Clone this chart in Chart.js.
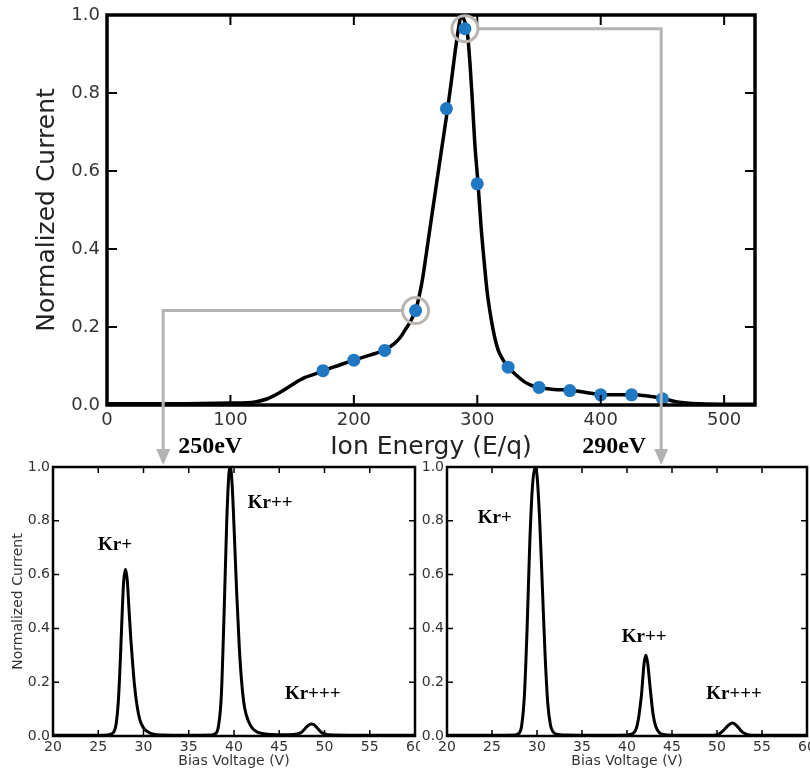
<!DOCTYPE html>
<html>
<head>
<meta charset="utf-8">
<script src="https://cdn.jsdelivr.net/npm/chart.js@4.4.1/dist/chart.umd.min.js"></script>
<style>
  html, body { margin: 0; padding: 0; background: #fff; }
  #wrap { position: relative; width: 810px; height: 774px; overflow: hidden; }
  canvas { position: absolute; }
  #energy { left: 0; top: 0; z-index: 2; pointer-events: none; }
  #bias250 { left: 0; top: 455px; z-index: 1; }
  #bias290 { left: 415px; top: 455px; z-index: 1; }
</style>
</head>
<body>
<div id="wrap">
  <canvas id="energy" width="810" height="475"></canvas>
  <canvas id="bias250" width="420" height="319"></canvas>
  <canvas id="bias290" width="395" height="319"></canvas>
</div>
<script>
// ion energy distribution (top)
const energyCurveX = [0, 50, 100, 120, 130, 140, 150, 160, 170, 176, 188, 200, 213, 225, 233, 238, 242, 246, 250, 253, 256, 259, 262, 265, 268, 272, 276, 279, 282, 285, 287, 289, 292, 294, 296, 298, 300.6, 303, 305.5, 308, 311, 314, 317, 321, 325, 331, 338, 344, 350, 362, 376, 388, 400, 412, 425, 438, 450, 462, 481, 500, 525]
const energyCurveY = [0.003, 0.003, 0.005, 0.008, 0.016, 0.032, 0.052, 0.07, 0.081, 0.089, 0.102, 0.115, 0.128, 0.141, 0.158, 0.175, 0.195, 0.215, 0.243, 0.28, 0.33, 0.395, 0.46, 0.525, 0.59, 0.675, 0.76, 0.83, 0.905, 0.97, 1.0, 0.99, 0.953, 0.88, 0.78, 0.67, 0.568, 0.46, 0.37, 0.29, 0.225, 0.175, 0.14, 0.115, 0.098, 0.078, 0.06, 0.05, 0.045, 0.04, 0.038, 0.032, 0.027, 0.026, 0.026, 0.023, 0.017, 0.008, 0.003, 0.002, 0.002]
const energyPointX = [175, 200, 225, 250, 275, 290, 300, 325, 350, 375, 400, 425, 450]
const energyPointY = [0.088, 0.115, 0.14, 0.242, 0.76, 0.965, 0.567, 0.097, 0.045, 0.037, 0.026, 0.026, 0.016]
const energyTicks = [0, 100, 200, 300, 400, 500]
const currentTicks = [0, 0.2, 0.4, 0.6, 0.8, 1.0]

// retarding potential spectra (bottom)
const biasTicks = [20, 25, 30, 35, 40, 45, 50, 55, 60]
const bias250X = [20, 25, 26, 26.5, 26.8, 27.0, 27.2, 27.4, 27.6, 27.8, 28.0, 28.2, 28.4, 28.6, 28.8, 29.0, 29.3, 29.6, 30.0, 30.5, 31, 32, 35, 37.5, 38.0, 38.3, 38.6, 38.9, 39.2, 39.45, 39.6, 39.8, 40.0, 40.3, 40.6, 40.9, 41.2, 41.6, 42.0, 42.5, 43, 44, 46, 47, 47.5, 48, 48.5, 48.8, 49.2, 49.6, 50, 51, 55, 60]
const bias250Y = [0.003, 0.003, 0.004, 0.008, 0.02, 0.05, 0.12, 0.25, 0.42, 0.57, 0.62, 0.58, 0.47, 0.36, 0.27, 0.19, 0.11, 0.06, 0.03, 0.015, 0.008, 0.004, 0.003, 0.004, 0.01, 0.04, 0.15, 0.45, 0.8, 0.98, 1.0, 0.93, 0.78, 0.53, 0.32, 0.18, 0.1, 0.055, 0.03, 0.016, 0.01, 0.006, 0.005, 0.008, 0.015, 0.033, 0.045, 0.043, 0.03, 0.015, 0.008, 0.004, 0.003, 0.003]
const bias290X = [20, 25, 27.5, 28.0, 28.3, 28.6, 28.9, 29.2, 29.5, 29.8, 30.0, 30.3, 30.6, 30.9, 31.2, 31.5, 31.8, 32.3, 33, 38, 40.0, 40.6, 41.0, 41.3, 41.6, 41.9, 42.1, 42.3, 42.6, 42.9, 43.2, 43.6, 44.2, 46, 49.5, 50.2, 50.7, 51.2, 51.7, 52.2, 52.7, 53.3, 54, 60]
const bias290Y = [0.003, 0.003, 0.004, 0.01, 0.04, 0.15, 0.4, 0.72, 0.93, 1.0, 0.97, 0.8, 0.55, 0.3, 0.12, 0.04, 0.015, 0.006, 0.004, 0.003, 0.004, 0.008, 0.025, 0.07, 0.15, 0.27, 0.3, 0.27, 0.17, 0.08, 0.035, 0.012, 0.005, 0.003, 0.003, 0.007, 0.02, 0.038, 0.048, 0.038, 0.018, 0.006, 0.003, 0.003]
const ionLabels = ['Kr+', 'Kr++', 'Kr+++']

const toXY = (xs, ys) => xs.map((v, i) => ({x: v, y: ys[i]}))

Chart.defaults.font.family = '"DejaVu Sans", sans-serif'
Chart.defaults.color = '#333'

// matplotlib style box with ticks pointing in
const frameTicks = {
    id: 'frameTicks',
    afterDatasetsDraw(chart, args, opts) {
        const {ctx, chartArea: a, scales: {x, y}} = chart
        ctx.save()
        ctx.strokeStyle = '#000'
        ctx.lineWidth = opts.tickWidth
        ctx.beginPath()
        x.ticks.forEach(t => {
            const px = x.getPixelForValue(t.value)
            if (px <= a.left + 1 || px >= a.right - 1) return
            ctx.moveTo(px, a.bottom); ctx.lineTo(px, a.bottom - opts.len)
            ctx.moveTo(px, a.top); ctx.lineTo(px, a.top + opts.len)
        })
        y.ticks.forEach(t => {
            const py = y.getPixelForValue(t.value)
            if (py <= a.top + 1 || py >= a.bottom - 1) return
            ctx.moveTo(a.left, py); ctx.lineTo(a.left + opts.len, py)
            ctx.moveTo(a.right, py); ctx.lineTo(a.right - opts.len, py)
        })
        ctx.stroke()
        ctx.lineWidth = opts.width
        ctx.strokeRect(a.left, a.top, a.width, a.height)
        ctx.restore()
    }
}

// grey circles + arrows pointing at the two spectra below
const callouts = {
    id: 'callouts',
    afterDraw(chart, args, opts) {
        const {ctx, scales: {x, y}} = chart
        ctx.save()
        opts.items.forEach(c => {
            const cx = x.getPixelForValue(c.energy)
            const cy = y.getPixelForValue(c.current)
            const dx = x.getPixelForValue(c.dropAt)
            const side = dx < cx ? -1 : 1
            ctx.lineWidth = 3
            ctx.strokeStyle = '#b9b4af'
            ctx.beginPath(); ctx.arc(cx, cy, 13, 0, Math.PI * 2); ctx.stroke()
            ctx.strokeStyle = '#b3b3b3'
            ctx.beginPath()
            ctx.moveTo(cx + side * 13, cy)
            ctx.lineTo(dx, cy)
            ctx.lineTo(dx, opts.tipY - 14)
            ctx.stroke()
            ctx.fillStyle = '#b3b3b3'
            ctx.beginPath()
            ctx.moveTo(dx - 7, opts.tipY - 16)
            ctx.lineTo(dx + 7, opts.tipY - 16)
            ctx.lineTo(dx, opts.tipY)
            ctx.closePath(); ctx.fill()
            ctx.fillStyle = '#000'
            ctx.font = 'bold 24px "Liberation Serif", serif'
            ctx.textBaseline = 'middle'
            ctx.textAlign = side < 0 ? 'left' : 'right'
            ctx.fillText(c.label, dx - side * 15, opts.labelY)
        })
        ctx.restore()
    }
}

const peakNames = {
    id: 'peakNames',
    afterDraw(chart, args, opts) {
        const {ctx, scales: {x, y}} = chart
        ctx.save()
        ctx.fillStyle = '#000'
        ctx.font = 'bold 19px "Liberation Serif", serif'
        ctx.textAlign = 'center'
        ctx.textBaseline = 'middle'
        ionLabels.forEach((name, i) => {
            ctx.fillText(name, x.getPixelForValue(opts.at[i][0]), y.getPixelForValue(opts.at[i][1]))
        })
        ctx.restore()
    }
}

new Chart(document.getElementById('energy'), {
    type: 'scatter',
    data: {
        datasets: [
            {data: toXY(energyPointX, energyPointY), pointRadius: 6.5, pointBackgroundColor: '#1f78c1', pointBorderWidth: 0, order: 0},
            {data: toXY(energyCurveX, energyCurveY), showLine: true, borderColor: '#000', borderWidth: 3.5, pointRadius: 0, cubicInterpolationMode: 'monotone', order: 1}
        ]
    },
    options: {
        responsive: false,
        animation: false,
        layout: {padding: {top: 15, right: 55, left: 0, bottom: 0}},
        plugins: {
            legend: {display: false}, tooltip: {enabled: false},
            frameTicks: {len: 10, tickWidth: 2, width: 3.5},
            callouts: {
                tipY: 465, labelY: 447,
                items: [
                    {energy: 250, current: 0.242, dropAt: 45.5, label: '250eV'},
                    {energy: 290, current: 0.965, dropAt: 449, label: '290eV'}
                ]
            }
        },
        scales: {
            x: {
                min: 0, max: 525,
                afterBuildTicks: s => { s.ticks = energyTicks.map(v => ({value: v})) },
                afterFit: s => { s.height = 70; s.paddingLeft = 0; s.paddingRight = 0 },
                grid: {display: false, drawTicks: false}, border: {display: false},
                ticks: {font: {size: 18}, padding: 5, maxRotation: 0},
                title: {display: true, text: 'Ion Energy (E/q)', font: {size: 25}, color: '#222', padding: {top: 0, bottom: 13}}
            },
            y: {
                min: 0, max: 1,
                afterBuildTicks: s => { s.ticks = currentTicks.map(v => ({value: v})) },
                afterFit: s => { s.width = 107; s.paddingTop = 0; s.paddingBottom = 0 },
                grid: {display: false, drawTicks: false}, border: {display: false},
                ticks: {font: {size: 18}, padding: 7, callback: v => v.toFixed(1)},
                title: {display: true, text: 'Normalized Current', font: {size: 25}, color: '#222', padding: {top: 32, bottom: 0}}
            }
        }
    },
    plugins: [frameTicks, callouts]
})

function biasChart(id, xs, ys, yAxisWidth, padRight, showYTitle, labelAt) {
    return new Chart(document.getElementById(id), {
        type: 'scatter',
        data: {
            datasets: [{data: toXY(xs, ys), showLine: true, borderColor: '#000', borderWidth: 3, pointRadius: 0, cubicInterpolationMode: 'monotone'}]
        },
        options: {
            responsive: false,
            animation: false,
            layout: {padding: {top: 12, right: padRight, left: 0, bottom: 0}},
            plugins: {
                legend: {display: false}, tooltip: {enabled: false},
                frameTicks: {len: 6, tickWidth: 1.5, width: 2.5},
                peakNames: {at: labelAt}
            },
            scales: {
                x: {
                    min: 20, max: 60,
                    afterBuildTicks: s => { s.ticks = biasTicks.map(v => ({value: v})) },
                    afterFit: s => { s.height = 38; s.paddingLeft = 0; s.paddingRight = 0 },
                    grid: {display: false, drawTicks: false}, border: {display: false},
                    ticks: {font: {size: 14}, padding: 3, maxRotation: 0},
                    title: {display: true, text: 'Bias Voltage (V)', font: {size: 14}, padding: {top: 0, bottom: 4}}
                },
                y: {
                    min: 0, max: 1,
                    afterBuildTicks: s => { s.ticks = currentTicks.map(v => ({value: v})) },
                    afterFit: s => { s.width = yAxisWidth; s.paddingTop = 0; s.paddingBottom = 0 },
                    grid: {display: false, drawTicks: false}, border: {display: false},
                    ticks: {font: {size: 14}, padding: 3, callback: v => v.toFixed(1)},
                    title: {display: showYTitle, text: 'Normalized Current', font: {size: 14}, padding: {top: 10, bottom: 0}}
                }
            }
        },
        plugins: [frameTicks, peakNames]
    })
}

biasChart('bias250', bias250X, bias250Y, 53, 5, true, [[26.85, 0.71], [44.0, 0.866], [48.7, 0.156]])
biasChart('bias290', bias290X, bias290Y, 32, 3, false, [[25.3, 0.81], [41.9, 0.368], [51.9, 0.156]])
</script>
</body>
</html>
